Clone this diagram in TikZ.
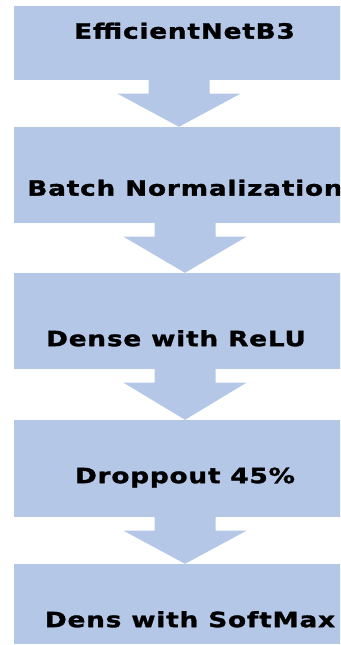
\documentclass[tikz,border=0pt]{standalone}
\usepackage{fontspec}
\newfontfamily\layerfont[FakeStretch=1.25,LetterSpace=4,FakeBold=1.5]{DejaVu Sans Bold}
\usetikzlibrary{calc}
\definecolor{layerblue}{HTML}{B4C7E7}
\tikzset{
  layerbox/.style={fill=layerblue, draw=none, rectangle, inner sep=0pt,
    minimum width=342pt},
  layertext/.style={font=\layerfont\fontsize{21pt}{23pt}\selectfont,
    text=black, inner sep=0pt, text height=15.3pt, text depth=0pt, anchor=center},
}
% block arrow from one box down to the next: #1 source, #2 target, #3 centre x
\newcommand\flowarrow[3]{%
  \fill[layerblue]
    ({#3-30.5},0 |- #1.south) -- ({#3+30.5},0 |- #1.south)
    -- ($({#3+30.5},0 |- #1.south)+(0,13.5)$)
    -- ($({#3+61.5},0 |- #1.south)+(0,13.5)$)
    -- (#3,0 |- #2.north)
    -- ($({#3-61.5},0 |- #1.south)+(0,13.5)$)
    -- ($({#3-30.5},0 |- #1.south)+(0,13.5)$) -- cycle;}
\begin{document}
\begin{tikzpicture}[x=1pt,y=-1pt]
\useasboundingbox (0,0) rectangle (340,645);
\clip (0,0) rectangle (340,645);
% layer boxes
\node[layerbox, minimum height=74pt] (b1) at (185,43) {};
\node[layerbox, minimum height=96pt] (b2) at (185,175) {};
\node[layerbox, minimum height=96pt] (b3) at (185,321) {};
\node[layerbox, minimum height=97pt] (b4) at (185,468.5) {};
\node[layerbox, minimum height=80pt] (b5) at (185,604) {};
% arrows between layers
\flowarrow{b1}{b2}{179}
\flowarrow{b2}{b3}{185}
\flowarrow{b3}{b4}{185}
\flowarrow{b4}{b5}{185}
% layer labels
\node[layertext] (t1) at (184.5,31) {EfficientNetB3};
\node[layertext] (t2) at (185,188) {Batch Normalization};
\node[layertext] (t3) at (176,338.5) {Dense with ReLU};
\node[layertext] (t4) at (185,475.5) {Droppout 45\%};
\node[layertext] (t5) at (190,619.5) {Dens with SoftMax};
\end{tikzpicture}
\end{document}
